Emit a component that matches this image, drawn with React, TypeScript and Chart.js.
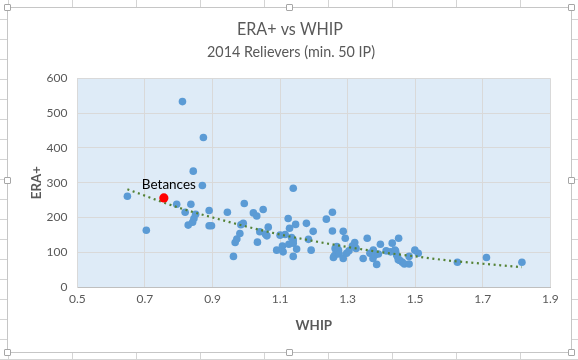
import React, { useEffect, useRef } from "react";
import { Chart, registerables } from "chart.js";

Chart.register(...registerables);

// ---- data ----
const whip = [
  0.648, 0.704, 0.794, 0.811, 0.819, 0.828, 0.836, 0.841, 0.843, 0.845,
  0.85, 0.87, 0.873, 0.89, 0.89, 0.897, 0.944, 0.962, 0.967, 0.972,
  0.981, 0.984, 0.991, 0.994, 1.021, 1.031, 1.033, 1.04, 1.05, 1.057,
  1.061, 1.065, 1.09, 1.1, 1.107, 1.109, 1.115, 1.124, 1.126, 1.128,
  1.134, 1.139, 1.139, 1.139, 1.139, 1.146, 1.149, 1.178, 1.184, 1.192,
  1.198, 1.237, 1.255, 1.255, 1.258, 1.26, 1.263, 1.266, 1.268, 1.273,
  1.275, 1.287, 1.287, 1.293, 1.297, 1.304, 1.314, 1.321, 1.325, 1.346,
  1.358, 1.366, 1.375, 1.376, 1.381, 1.386, 1.391, 1.397, 1.414, 1.427,
  1.432, 1.44, 1.442, 1.445, 1.448, 1.45, 1.451, 1.455, 1.462, 1.468,
  1.482, 1.482, 1.499, 1.509, 1.625, 1.711, 1.816,
];
const eraPlus = [
  261, 163, 238, 533, 215, 178, 238, 186, 333, 197,
  209, 292, 430, 220, 176, 176, 215, 88, 128, 138,
  154, 179, 183, 240, 213, 204, 129, 159, 223, 152,
  147, 172, 106, 149, 118, 101, 151, 197, 123, 169,
  142, 284, 135, 126, 88, 180, 109, 183, 137, 106,
  160, 195, 215, 161, 85, 89, 111, 99, 116, 106,
  95, 160, 82, 140, 97, 104, 118, 128, 111, 82,
  140, 97, 82, 106, 92, 65, 95, 123, 104, 101,
  126, 106, 103, 92, 87, 78, 140, 76, 71, 66,
  66, 88, 106, 97, 71, 85, 71,
];
const highlightName = "Betances";
const highlightWhip = [0.756];
const highlightEra = [256];
const trendWhip = [0.648, 0.8, 0.9, 1.0, 1.1, 1.2, 1.3, 1.4, 1.5, 1.6, 1.7, 1.816];
const trendEra = [281, 228, 200, 174, 151, 132, 115, 100, 88, 76, 67, 57];
const xTickValues = [0.5, 0.7, 0.9, 1.1, 1.3, 1.5, 1.7, 1.9];
const titleText = "ERA+ vs WHIP";
const subtitleText = "2014 Relievers (min. 50 IP)";
const xTitle = "WHIP";
const yTitle = "ERA+";

const FONT = "Lato, 'Liberation Sans', sans-serif";
const GREY = "#595959";

function fitText(ctx: CanvasRenderingContext2D, text: string, cx: number, cy: number, font: string, width: number) {
  ctx.save();
  ctx.font = font;
  const w = ctx.measureText(text).width;
  const sx = w > 0 ? width / w : 1;
  ctx.translate(cx, cy);
  ctx.scale(sx, 1);
  ctx.textAlign = "center";
  ctx.textBaseline = "middle";
  ctx.fillText(text, 0, 0);
  ctx.restore();
}

export default function App() {
  const ref = useRef<HTMLCanvasElement | null>(null);

  useEffect(() => {
    const canvas = ref.current;
    if (!canvas) return;

    const bgPlugin = {
      id: "plotBg",
      beforeDraw(chart: any) {
        const { ctx, chartArea } = chart;
        ctx.save();
        ctx.fillStyle = "#DEEBF7";
        ctx.fillRect(chartArea.left, chartArea.top, chartArea.right - chartArea.left, chartArea.bottom - chartArea.top);
        ctx.restore();
      },
    };

    const textPlugin = {
      id: "texts",
      afterDraw(chart: any) {
        const { ctx } = chart;
        ctx.save();
        ctx.fillStyle = GREY;
        fitText(ctx, titleText, 290, 29, `17.6px ${FONT}`, 106);
        fitText(ctx, subtitleText, 291, 52, `14.67px ${FONT}`, 168);
        const meta = chart.getDatasetMeta(0);
        const pt = meta.data[0];
        if (pt) {
          ctx.fillStyle = "#000000";
          fitText(ctx, highlightName, pt.x + 5, pt.y - 13, `14px ${FONT}`, 54);
        }
        ctx.restore();
      },
    };

    const chart = new Chart(canvas, {
      type: "scatter",
      data: {
        datasets: [
          {
            label: highlightName,
            data: highlightWhip.map((x, i) => ({ x, y: highlightEra[i] })),
            backgroundColor: "#FF0000",
            borderColor: "#FF0000",
            pointRadius: 4.6,
            pointBorderWidth: 0,
            order: 0,
          },
          {
            label: "Trend",
            type: "line",
            data: trendWhip.map((x, i) => ({ x, y: trendEra[i] })),
            borderColor: "#548235",
            borderWidth: 2.2,
            borderDash: [2, 3.6],
            pointRadius: 0,
            fill: false,
            cubicInterpolationMode: "monotone",
            order: 1,
          } as any,
          {
            label: "Relievers",
            data: whip.map((x, i) => ({ x, y: eraPlus[i] })),
            backgroundColor: "#5B9BD5",
            borderColor: "#5B9BD5",
            pointRadius: 3.8,
            pointBorderWidth: 0,
            order: 2,
          },
        ],
      },
      options: {
        animation: false,
        responsive: false,
        devicePixelRatio: 1,
        layout: { padding: { top: 78.3, left: 8, right: 27.7, bottom: 8 } },
        plugins: {
          legend: { display: false },
          tooltip: { enabled: false },
          title: { display: false },
        },
        scales: {
          x: {
            type: "linear",
            min: 0.5,
            max: 1.9,
            afterBuildTicks(scale: any) {
              scale.ticks = xTickValues.map((v) => ({ value: v }));
            },
            afterFit(scale: any) {
              scale.height = 65;
            },
            ticks: {
              color: GREY,
              font: { family: FONT, size: 12 },
              padding: 5,
              maxRotation: 0,
              callback: (v: any) => Number(v).toFixed(1),
            },
            grid: { color: "#D9D9D9", lineWidth: 1, drawTicks: false },
            border: { color: "#BFBFBF", width: 1 },
            title: {
              display: true,
              text: xTitle,
              color: GREY,
              font: { family: FONT, size: 13.33, weight: "bold" },
              padding: { top: 0, bottom: 18 },
            },
          },
          y: {
            type: "linear",
            min: 0,
            max: 600,
            afterFit(scale: any) {
              scale.width = 69.4;
            },
            ticks: {
              stepSize: 100,
              color: GREY,
              font: { family: FONT, size: 12 },
              padding: 10,
            },
            grid: { color: "#D9D9D9", lineWidth: 1, drawTicks: false },
            border: { color: "#D9D9D9", width: 1 },
            title: {
              display: true,
              text: yTitle,
              color: GREY,
              font: { family: FONT, size: 13.33, weight: "bold" },
              padding: { top: 21, bottom: 0 },
            },
          },
        },
      },
      plugins: [bgPlugin, textPlugin],
    } as any);

    return () => chart.destroy();
  }, []);

  const handles = [
    [7, 7], [289, 7], [571, 7],
    [7, 180], [571, 180],
    [7, 352], [289, 352], [571, 352],
  ];

  return (
    <div
      style={{
        position: "absolute",
        left: 0,
        top: 0,
        width: 578,
        height: 360,
        overflow: "hidden",
        backgroundColor: "#FFFFFF",
        backgroundImage:
          "linear-gradient(to right, #D4D4D4 1px, transparent 1px), linear-gradient(to bottom, #D4D4D4 1px, transparent 1px)",
        backgroundSize: "64px 20px",
        backgroundPosition: "8px 19px",
      }}
    >
      <div
        style={{
          position: "absolute",
          left: 7,
          top: 7,
          width: 563,
          height: 344,
          background: "#FFFFFF",
          border: "1px solid #C6C6C6",
        }}
      />
      {handles.map(([x, y], i) => (
        <div
          key={i}
          style={{
            position: "absolute",
            left: x - 3,
            top: y - 3,
            width: 5,
            height: 5,
            background: "#FFFFFF",
            border: "1px solid #A6A6A6",
            borderRadius: 1,
          }}
        />
      ))}
      <canvas
        ref={ref}
        width={578}
        height={360}
        style={{ position: "absolute", left: 0, top: 0, width: 578, height: 360 }}
      />
    </div>
  );
}
